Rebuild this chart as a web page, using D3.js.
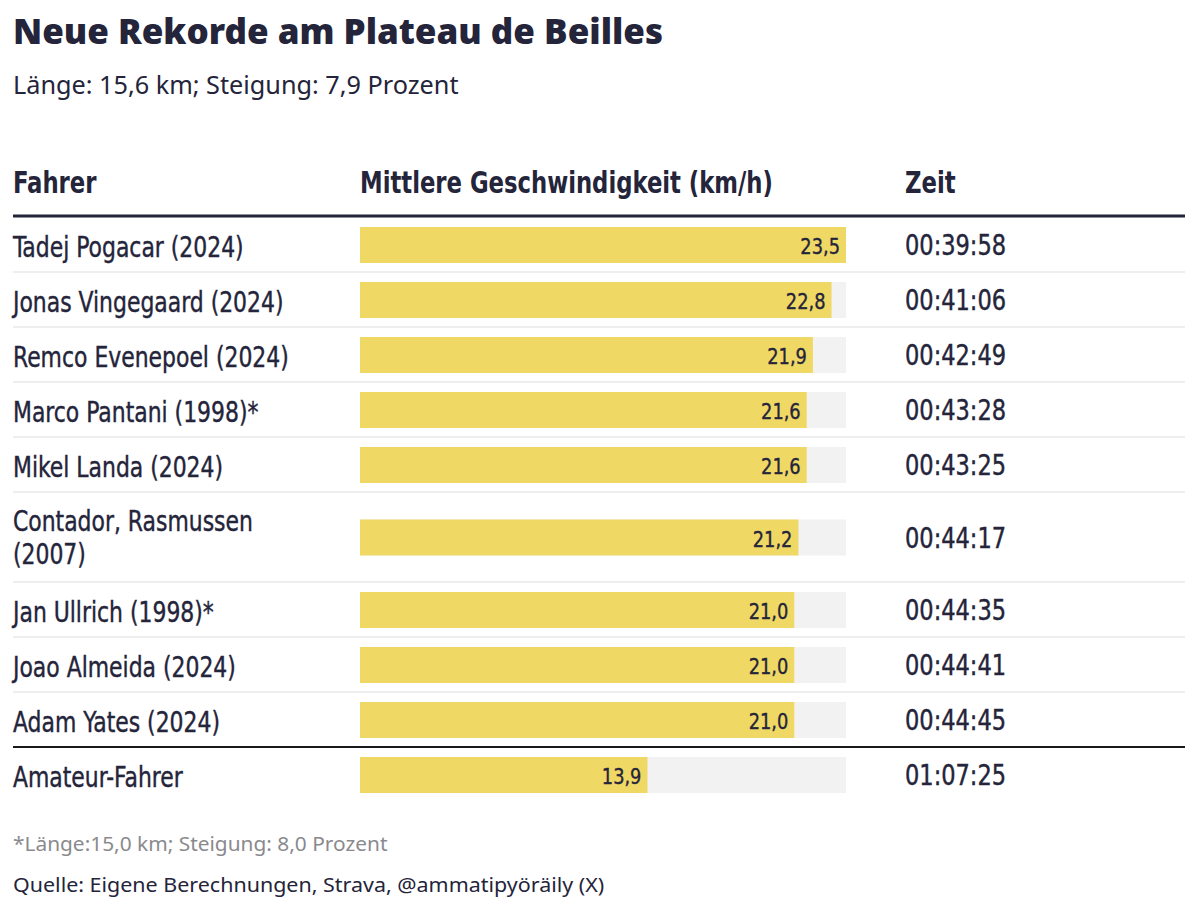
<!DOCTYPE html>
<html><head><meta charset="utf-8">
<script src="https://cdn.jsdelivr.net/npm/d3@7"></script>
<style>body{margin:0;background:#fff}svg{display:block}</style>
</head><body><svg id="c" width="1200" height="914"></svg>
<script>
const riders = ["Tadej Pogacar (2024)","Jonas Vingegaard (2024)","Remco Evenepoel (2024)","Marco Pantani (1998)*","Mikel Landa (2024)","Contador, Rasmussen|(2007)","Jan Ullrich (1998)*","Joao Almeida (2024)","Adam Yates (2024)","Amateur-Fahrer"];
const speeds = [23.5,22.8,21.9,21.6,21.6,21.2,21.0,21.0,21.0,13.9];
const times = ["00:39:58","00:41:06","00:42:49","00:43:28","00:43:25","00:44:17","00:44:35","00:44:41","00:44:45","01:07:25"];
const headers = ["Fahrer","Mittlere Geschwindigkeit (km/h)","Zeit"];

const ink = "#24243a";
const cond = "'DejaVu Sans Condensed','DejaVu Sans',sans-serif";
const sans = "'Noto Sans',sans-serif";
const svg = d3.select("#c");

// horizontally scale a text to mimic the reference's condensed face
function squeeze(sel, f){ sel.each(function(){ const w=this.getComputedTextLength(); d3.select(this).attr("textLength", w*f).attr("lengthAdjust","spacingAndGlyphs"); }); return sel; }

squeeze(svg.append("text").attr("x",13).attr("y",44).attr("font-family",sans).attr("font-weight",900)
  .attr("font-size",35).attr("fill",ink).text("Neue Rekorde am Plateau de Beilles"), 1.0);
squeeze(svg.append("text").attr("x",13).attr("y",94).attr("font-family",sans)
  .attr("font-size",24.5).attr("fill",ink).text("Länge: 15,6 km; Steigung: 7,9 Prozent"), 1.03);

const colX = [13,360,905];
squeeze(svg.selectAll("text.h").data(headers).join("text").attr("class","h")
  .attr("x",(d,i)=>colX[i]).attr("y",193).attr("font-family",cond).attr("font-weight",700)
  .attr("font-size",31).attr("fill",ink).text(d=>d), 0.815);
svg.append("line").attr("x1",13).attr("x2",1185).attr("y1",216).attr("y2",216).attr("stroke",ink).attr("stroke-width",3);

const heights = riders.map(r => r.includes("|") ? 90 : 55);
const tops = []; let acc = 217.5; heights.forEach(h=>{tops.push(acc); acc+=h;});

const x = d3.scaleLinear().domain([0, d3.max(speeds)]).range([360, 846]);
const barH = 36;

const rows = svg.selectAll("g.row").data(riders.map((r,i)=>({r, v:speeds[i], t:times[i], top:tops[i], h:heights[i], i})))
  .join("g").attr("class","row").attr("transform",d=>`translate(0,${d.top})`);

rows.filter(d=>d.i>0 && d.i<riders.length-1).append("line").attr("x1",13).attr("x2",1185).attr("y1",-0.5).attr("y2",-0.5)
  .attr("stroke","#e8e8e8").attr("stroke-width",1.5);
rows.filter(d=>d.i==riders.length-1).append("line").attr("x1",13).attr("x2",1185).attr("y1",-0.5).attr("y2",-0.5)
  .attr("stroke","#1a1a1a").attr("stroke-width",2);

rows.append("rect").attr("x",x(0)).attr("width",x(d3.max(speeds))-x(0)).attr("y",d=>d.h/2-barH/2).attr("height",barH).attr("fill","#f2f2f2");
rows.append("rect").attr("x",x(0)).attr("width",d=>x(d.v)-x(0)).attr("y",d=>d.h/2-barH/2).attr("height",barH).attr("fill","#f0d865");
squeeze(rows.append("text").attr("x",d=>x(d.v)-6).attr("y",d=>d.h/2+9).attr("text-anchor","end")
  .attr("font-family",cond).attr("font-size",22).attr("fill",ink).attr("stroke",ink).attr("stroke-width",0.35)
  .text(d=>d3.format(".1f")(d.v).replace(".",",")), 0.9);
squeeze(rows.append("text").attr("x",905).attr("y",d=>d.h/2+10).attr("font-family",cond).attr("font-size",27.5)
  .attr("fill",ink).attr("stroke",ink).attr("stroke-width",0.4).text(d=>d.t), 0.91);
rows.each(function(d){
  const parts = d.r.split("|");
  parts.forEach((p,k)=>{
    const off = parts.length===1 ? 12 : (k===0 ? -7 : 26);
    squeeze(d3.select(this).append("text").attr("font-family",cond).attr("font-size",29).attr("fill",ink)
      .attr("stroke",ink).attr("stroke-width",0.4)
      .attr("x",13).attr("y", d.h/2 + off).text(p), 0.84);
  });
});

squeeze(svg.append("text").attr("x",13).attr("y",851).attr("font-family",sans).attr("font-size",19.5).attr("fill","#8a8a8e")
  .text("*Länge:15,0 km; Steigung: 8,0 Prozent"), 1.07);
squeeze(svg.append("text").attr("x",13).attr("y",892).attr("font-family",sans).attr("font-size",19.5).attr("fill",ink)
  .text("Quelle: Eigene Berechnungen, Strava, @ammatipyöräily (X)"), 1.1);
</script></body></html>
